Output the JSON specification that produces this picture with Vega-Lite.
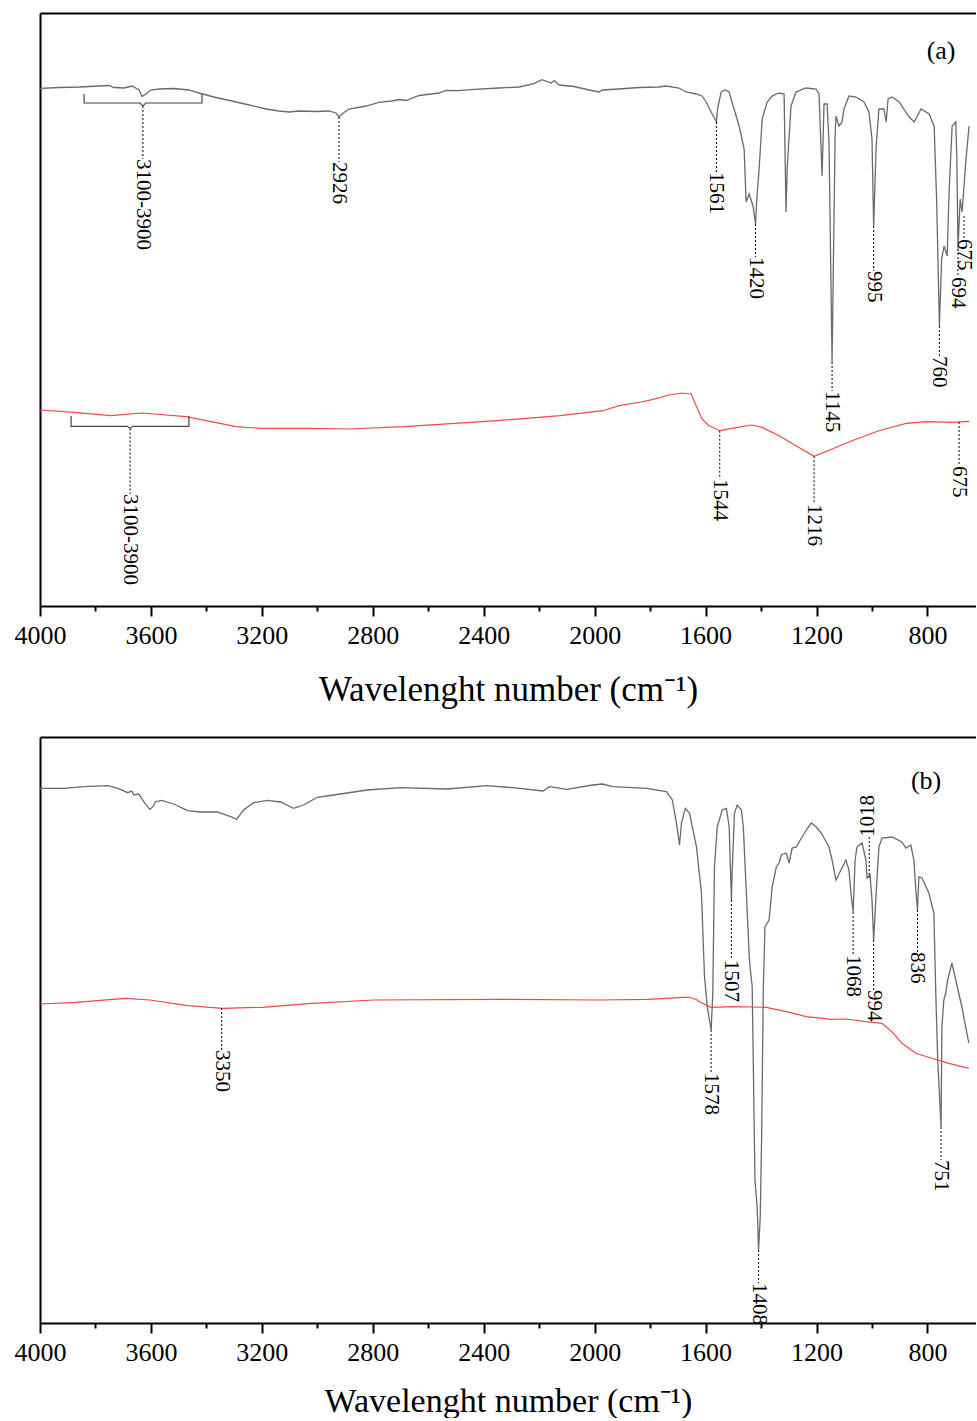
{
  "$schema": "https://vega.github.io/schema/vega-lite/v6.json",
  "padding": {"left": 14, "top": 13, "right": 0, "bottom": 0},
  "background": "white",
  "spacing": 30,
  "config": {
    "view": {"stroke": null},
    "font": "Liberation Serif",
    "axis": {"grid": false, "domainColor": "black", "tickColor": "black", "labelColor": "black", "titleColor": "black", "labelFont": "Liberation Serif", "titleFont": "Liberation Serif"}
  },
  "datasets": {
    "aGray": [
      {"w":4000,"a":75.3},{"w":3931,"a":74.5},{"w":3859,"a":74},{"w":3787,"a":73},{"w":3751,"a":72.5},{"w":3733,"a":74.5},{"w":3697,"a":75},{"w":3668,"a":73},{"w":3643,"a":77},{"w":3632,"a":83.5},{"w":3618,"a":81},{"w":3600,"a":77},{"w":3571,"a":76},{"w":3517,"a":75.5},{"w":3463,"a":77},{"w":3427,"a":80},{"w":3373,"a":84},{"w":3308,"a":88},{"w":3246,"a":92},{"w":3185,"a":96},{"w":3138,"a":98},{"w":3102,"a":99},{"w":3066,"a":98},{"w":3005,"a":98.5},{"w":2958,"a":98},{"w":2933,"a":100},{"w":2922,"a":104},{"w":2911,"a":101},{"w":2886,"a":96},{"w":2824,"a":93},{"w":2778,"a":89.3},{"w":2731,"a":88},{"w":2705,"a":86.5},{"w":2680,"a":87.5},{"w":2633,"a":82.5},{"w":2561,"a":80},{"w":2536,"a":77.5},{"w":2489,"a":77.7},{"w":2435,"a":76.3},{"w":2345,"a":75},{"w":2273,"a":74},{"w":2219,"a":70.7},{"w":2190,"a":66.7},{"w":2157,"a":70},{"w":2146,"a":67.5},{"w":2128,"a":72},{"w":2074,"a":73.5},{"w":2020,"a":77},{"w":1984,"a":79},{"w":1973,"a":77},{"w":1912,"a":76},{"w":1865,"a":75},{"w":1840,"a":74.5},{"w":1768,"a":74},{"w":1743,"a":73},{"w":1696,"a":75},{"w":1670,"a":79},{"w":1634,"a":81},{"w":1613,"a":83},{"w":1598,"a":89},{"w":1580,"a":99},{"w":1561,"a":109},{"w":1557,"a":96},{"w":1544,"a":79},{"w":1530,"a":77},{"w":1515,"a":79},{"w":1505,"a":89},{"w":1479,"a":113},{"w":1461,"a":136},{"w":1454,"a":189},{"w":1443,"a":181},{"w":1429,"a":193},{"w":1420,"a":211},{"w":1416,"a":189},{"w":1407,"a":156},{"w":1396,"a":106},{"w":1378,"a":89},{"w":1360,"a":83},{"w":1335,"a":80},{"w":1317,"a":81},{"w":1310,"a":199},{"w":1306,"a":156},{"w":1292,"a":93},{"w":1274,"a":79},{"w":1238,"a":75},{"w":1202,"a":76},{"w":1191,"a":81},{"w":1180,"a":163},{"w":1173,"a":91},{"w":1162,"a":91},{"w":1155,"a":129},{"w":1144,"a":349},{"w":1133,"a":123},{"w":1130,"a":103},{"w":1119,"a":113},{"w":1108,"a":109},{"w":1101,"a":96},{"w":1083,"a":83},{"w":1057,"a":84},{"w":1029,"a":89},{"w":1011,"a":99},{"w":1000,"a":126},{"w":994,"a":213},{"w":985,"a":133},{"w":975,"a":96},{"w":957,"a":96},{"w":949,"a":109},{"w":942,"a":86},{"w":928,"a":84},{"w":902,"a":89},{"w":866,"a":104},{"w":848,"a":109},{"w":823,"a":96},{"w":794,"a":101},{"w":776,"a":113},{"w":767,"a":186},{"w":757,"a":313},{"w":749,"a":246},{"w":740,"a":233},{"w":729,"a":243},{"w":722,"a":179},{"w":711,"a":113},{"w":698,"a":109},{"w":694,"a":146},{"w":690,"a":236},{"w":682,"a":186},{"w":675,"a":199},{"w":661,"a":146},{"w":650,"a":113}
    ],
    "aRed": [
      {"w":4000,"a":397},{"w":3877,"a":399.3},{"w":3744,"a":402.7},{"w":3632,"a":400},{"w":3474,"a":403.7},{"w":3383,"a":408.7},{"w":3293,"a":413.7},{"w":3203,"a":415.3},{"w":3025,"a":415.3},{"w":2889,"a":416},{"w":2687,"a":413.7},{"w":2352,"a":407.7},{"w":2125,"a":402.7},{"w":1970,"a":397.7},{"w":1912,"a":392.7},{"w":1833,"a":389},{"w":1793,"a":386.7},{"w":1732,"a":382},{"w":1685,"a":380},{"w":1652,"a":381},{"w":1634,"a":392.7},{"w":1613,"a":406},{"w":1588,"a":412.7},{"w":1549,"a":417.7},{"w":1505,"a":415.3},{"w":1433,"a":412},{"w":1396,"a":414.3},{"w":1335,"a":422.7},{"w":1274,"a":432.7},{"w":1209,"a":443.3},{"w":1144,"a":436},{"w":1072,"a":427.7},{"w":975,"a":417.7},{"w":877,"a":410.3},{"w":805,"a":408.7},{"w":711,"a":409.3},{"w":650,"a":408.3}
    ],
    "aRules": [
      {"w":3629,"a":93,"a2":146},{"w":2922,"a":104,"a2":149},{"w":1561,"a":109,"a2":159},{"w":1420,"a":211,"a2":244},{"w":1144,"a":349,"a2":378},{"w":994,"a":213,"a2":258},{"w":757,"a":313,"a2":343},{"w":690,"a":236,"a2":264},{"w":668,"a":203,"a2":226},
      {"w":3675,"a":415.5,"a2":481},{"w":1549,"a":417.7,"a2":466},{"w":1209,"a":443.3,"a2":491},{"w":686,"a":409,"a2":453}
    ],
    "aLabels": [
      {"w":3629,"a":146,"t":"3100-3900"},{"w":2922,"a":149,"t":"2926"},{"w":1561,"a":159,"t":"1561"},{"w":1420,"a":244,"t":"1420"},{"w":1144,"a":378,"t":"1145"},{"w":994,"a":258,"t":"995"},{"w":757,"a":343,"t":"760"},{"w":690,"a":264,"t":"694"},{"w":668,"a":226,"t":"675"},
      {"w":3675,"a":481,"t":"3100-3900"},{"w":1549,"a":466,"t":"1544"},{"w":1209,"a":491,"t":"1216"},{"w":686,"a":453,"t":"675"}
    ],
    "aBrackets": [
      {"b":"g","i":0,"w":3841,"a":81},{"b":"g","i":1,"w":3841,"a":90},{"b":"g","i":2,"w":3640,"a":90},{"b":"g","i":3,"w":3629,"a":93},{"b":"g","i":4,"w":3618,"a":90},{"b":"g","i":5,"w":3416,"a":90},{"b":"g","i":6,"w":3416,"a":81},
      {"b":"r","i":0,"w":3888,"a":402.7},{"b":"r","i":1,"w":3888,"a":413.3},{"b":"r","i":2,"w":3685,"a":413.3},{"b":"r","i":3,"w":3675,"a":415.5},{"b":"r","i":4,"w":3665,"a":413.3},{"b":"r","i":5,"w":3463,"a":413.3},{"b":"r","i":6,"w":3463,"a":402.7}
    ],
    "aPanel": [{"w":751,"a":38,"t":"(a)"}],
    "bGray": [
      {"w":4000,"a":51.3},{"w":3914,"a":51.3},{"w":3842,"a":49.7},{"w":3755,"a":48.7},{"w":3719,"a":51.3},{"w":3683,"a":55.7},{"w":3669,"a":54},{"w":3662,"a":58},{"w":3644,"a":57},{"w":3626,"a":64.7},{"w":3604,"a":72.3},{"w":3593,"a":69.7},{"w":3583,"a":64.7},{"w":3561,"a":63.3},{"w":3518,"a":67},{"w":3468,"a":73.7},{"w":3421,"a":75},{"w":3360,"a":75},{"w":3313,"a":79.7},{"w":3291,"a":82.3},{"w":3266,"a":73},{"w":3230,"a":65.7},{"w":3180,"a":63.3},{"w":3133,"a":65},{"w":3086,"a":71.3},{"w":3050,"a":68},{"w":3000,"a":60.3},{"w":2942,"a":58},{"w":2820,"a":53},{"w":2701,"a":50.7},{"w":2532,"a":52},{"w":2389,"a":48.7},{"w":2295,"a":50.7},{"w":2187,"a":54},{"w":2162,"a":49.7},{"w":2101,"a":52.3},{"w":2007,"a":48},{"w":1971,"a":47},{"w":1935,"a":49.7},{"w":1813,"a":51.3},{"w":1741,"a":54.7},{"w":1720,"a":63},{"w":1705,"a":86.3},{"w":1694,"a":108},{"w":1687,"a":86},{"w":1673,"a":71.3},{"w":1658,"a":76.3},{"w":1633,"a":109.7},{"w":1615,"a":156},{"w":1604,"a":239.7},{"w":1594,"a":269.7},{"w":1580,"a":293},{"w":1574,"a":256},{"w":1568,"a":129.7},{"w":1558,"a":89.7},{"w":1540,"a":73},{"w":1525,"a":71.3},{"w":1515,"a":89.7},{"w":1507,"a":163},{"w":1504,"a":133},{"w":1496,"a":76.3},{"w":1486,"a":68},{"w":1471,"a":73},{"w":1464,"a":89.7},{"w":1442,"a":223},{"w":1432,"a":250},{"w":1422,"a":443},{"w":1414,"a":470},{"w":1409,"a":513},{"w":1403,"a":480},{"w":1398,"a":400},{"w":1392,"a":253},{"w":1386,"a":190},{"w":1371,"a":183},{"w":1360,"a":150},{"w":1345,"a":130},{"w":1335,"a":126},{"w":1327,"a":118},{"w":1309,"a":116},{"w":1299,"a":126},{"w":1288,"a":111},{"w":1273,"a":110},{"w":1263,"a":105},{"w":1237,"a":93},{"w":1219,"a":86},{"w":1201,"a":90},{"w":1183,"a":96},{"w":1165,"a":105},{"w":1155,"a":110},{"w":1144,"a":123},{"w":1130,"a":143},{"w":1112,"a":133},{"w":1094,"a":123},{"w":1083,"a":133},{"w":1076,"a":156},{"w":1068,"a":175},{"w":1061,"a":123},{"w":1054,"a":110},{"w":1036,"a":106},{"w":1022,"a":123},{"w":1018,"a":141},{"w":1007,"a":138},{"w":1000,"a":163},{"w":994,"a":203},{"w":985,"a":156},{"w":975,"a":110},{"w":964,"a":101},{"w":928,"a":100},{"w":892,"a":105},{"w":878,"a":111},{"w":860,"a":108},{"w":849,"a":123},{"w":842,"a":153},{"w":836,"a":173},{"w":831,"a":140},{"w":820,"a":141},{"w":795,"a":156},{"w":777,"a":176},{"w":770,"a":256},{"w":763,"a":323},{"w":751,"a":390},{"w":748,"a":290},{"w":741,"a":263},{"w":734,"a":256},{"w":727,"a":243},{"w":712,"a":226},{"w":698,"a":243},{"w":676,"a":270},{"w":651,"a":306}
    ],
    "bRed": [
      {"w":4000,"a":267},{"w":3871,"a":265.3},{"w":3692,"a":261.3},{"w":3603,"a":263},{"w":3468,"a":268.7},{"w":3340,"a":271.3},{"w":3199,"a":270.3},{"w":3020,"a":266.3},{"w":2796,"a":263},{"w":2347,"a":262.3},{"w":1982,"a":263},{"w":1809,"a":262.3},{"w":1676,"a":260.3},{"w":1658,"a":260.3},{"w":1630,"a":263},{"w":1623,"a":264.7},{"w":1580,"a":270.3},{"w":1504,"a":269.7},{"w":1381,"a":270.3},{"w":1309,"a":274.7},{"w":1237,"a":279.7},{"w":1144,"a":282.3},{"w":1094,"a":282},{"w":1022,"a":284.7},{"w":964,"a":286.3},{"w":928,"a":294.7},{"w":892,"a":306.3},{"w":842,"a":316.3},{"w":784,"a":321.3},{"w":723,"a":326.3},{"w":651,"a":331.3}
    ],
    "bRules": [
      {"w":1580,"a":293,"a2":336},{"w":1507,"a":163,"a2":223},{"w":1409,"a":513,"a2":546},{"w":1068,"a":175,"a2":218},{"w":1010,"a":100,"a2":141},{"w":994,"a":203,"a2":253},{"w":836,"a":173,"a2":215},{"w":751,"a":390,"a2":423},{"w":3345,"a":271,"a2":313}
    ],
    "bLabels": [
      {"w":1580,"a":336,"t":"1578"},{"w":1507,"a":223,"t":"1507"},{"w":1409,"a":546,"t":"1408"},{"w":1068,"a":218,"t":"1068"},{"w":994,"a":253,"t":"994"},{"w":836,"a":215,"t":"836"},{"w":751,"a":423,"t":"751"},{"w":3345,"a":313,"t":"3350"}
    ],
    "bLabelsUp": [{"w":1014,"a":100,"t":"1018"}],
    "bPanel": [{"w":805,"a":44,"t":"(b)"}]
  },
  "vconcat": [
    {
      "width": 936,
      "height": 593,
      "resolve": {"axis": {"x": "independent"}},
      "encoding": {
        "y": {"field": "a", "type": "quantitative", "scale": {"domain": [0, 593], "reverse": true, "nice": false, "zero": false},
              "axis": {"orient": "left", "domain": true, "domainWidth": 2, "ticks": false, "labels": false, "title": null, "grid": false}}
      },
      "layer": [
        {
          "data": {"name": "aGray"},
          "mark": {"type": "line", "color": "#6a6a6a", "strokeWidth": 1.3},
          "encoding": {
            "x": {"field": "w", "type": "quantitative", "scale": {"domain": [4000, 625], "nice": false, "zero": false},
                  "axis": {"orient": "bottom", "values": [4000, 3600, 3200, 2800, 2400, 2000, 1600, 1200, 800], "format": "d", "tickSize": 10, "tickWidth": 2, "domainWidth": 2, "labelFontSize": 26, "labelPadding": 6, "labelFlush": false, "labelOverlap": false, "title": "Wavelenght number (cm⁻¹)", "titleFontSize": 35, "titleFontWeight": "normal", "titlePadding": 24}}
          }
        },
        {
          "data": {"name": "aRed"},
          "mark": {"type": "line", "color": "#f04848", "strokeWidth": 1.2},
          "encoding": {
            "x": {"field": "w", "type": "quantitative", "scale": {"domain": [4000, 625], "nice": false, "zero": false},
                  "axis": {"orient": "bottom", "values": [3800, 3400, 3000, 2600, 2200, 1800, 1400, 1000], "tickSize": 5, "tickWidth": 2, "domain": false, "labels": false, "title": null}}
          }
        },
        {
          "data": {"name": "aRules"},
          "mark": {"type": "rule", "color": "black", "strokeWidth": 1, "strokeDash": [2, 2]},
          "encoding": {
            "x": {"field": "w", "type": "quantitative", "scale": {"domain": [4000, 625], "nice": false, "zero": false},
                  "axis": {"orient": "top", "domain": true, "domainWidth": 2, "ticks": false, "labels": false, "title": null}},
            "y2": {"field": "a2"}
          }
        },
        {
          "data": {"name": "aBrackets"},
          "mark": {"type": "line", "color": "#444444", "strokeWidth": 1.2},
          "encoding": {
            "x": {"field": "w", "type": "quantitative", "scale": {"domain": [4000, 625], "nice": false, "zero": false}, "axis": null},
            "order": {"field": "i", "type": "quantitative"},
            "detail": {"field": "b", "type": "nominal"}
          }
        },
        {
          "data": {"name": "aLabels"},
          "mark": {"type": "text", "angle": 90, "align": "left", "baseline": "middle", "fontSize": 21, "font": "Liberation Serif", "color": "black", "clip": true},
          "encoding": {
            "x": {"field": "w", "type": "quantitative", "scale": {"domain": [4000, 625], "nice": false, "zero": false}, "axis": null},
            "text": {"field": "t"}
          }
        },
        {
          "data": {"name": "aPanel"},
          "mark": {"type": "text", "align": "center", "baseline": "middle", "fontSize": 26, "font": "Liberation Serif", "color": "black"},
          "encoding": {
            "x": {"field": "w", "type": "quantitative", "scale": {"domain": [4000, 625], "nice": false, "zero": false}, "axis": null},
            "text": {"field": "t"}
          }
        }
      ]
    },
    {
      "width": 936,
      "height": 586,
      "resolve": {"axis": {"x": "independent"}},
      "encoding": {
        "y": {"field": "a", "type": "quantitative", "scale": {"domain": [0, 586], "reverse": true, "nice": false, "zero": false},
              "axis": {"orient": "left", "domain": true, "domainWidth": 2, "ticks": false, "labels": false, "title": null, "grid": false}}
      },
      "layer": [
        {
          "data": {"name": "bGray"},
          "mark": {"type": "line", "color": "#6a6a6a", "strokeWidth": 1.3},
          "encoding": {
            "x": {"field": "w", "type": "quantitative", "scale": {"domain": [4000, 625], "nice": false, "zero": false},
                  "axis": {"orient": "bottom", "values": [4000, 3600, 3200, 2800, 2400, 2000, 1600, 1200, 800], "format": "d", "tickSize": 10, "tickWidth": 2, "domainWidth": 2, "labelFontSize": 26, "labelPadding": 6, "labelFlush": false, "labelOverlap": false, "title": "Wavelenght number (cm⁻¹)", "titleFontSize": 34, "titleFontWeight": "normal", "titlePadding": 19}}
          }
        },
        {
          "data": {"name": "bRed"},
          "mark": {"type": "line", "color": "#f04848", "strokeWidth": 1.2},
          "encoding": {
            "x": {"field": "w", "type": "quantitative", "scale": {"domain": [4000, 625], "nice": false, "zero": false},
                  "axis": {"orient": "bottom", "values": [3800, 3400, 3000, 2600, 2200, 1800, 1400, 1000], "tickSize": 5, "tickWidth": 2, "domain": false, "labels": false, "title": null}}
          }
        },
        {
          "data": {"name": "bRules"},
          "mark": {"type": "rule", "color": "black", "strokeWidth": 1, "strokeDash": [2, 2]},
          "encoding": {
            "x": {"field": "w", "type": "quantitative", "scale": {"domain": [4000, 625], "nice": false, "zero": false},
                  "axis": {"orient": "top", "domain": true, "domainWidth": 2, "ticks": false, "labels": false, "title": null}},
            "y2": {"field": "a2"}
          }
        },
        {
          "data": {"name": "bLabels"},
          "mark": {"type": "text", "angle": 90, "align": "left", "baseline": "middle", "fontSize": 21, "font": "Liberation Serif", "color": "black", "clip": true},
          "encoding": {
            "x": {"field": "w", "type": "quantitative", "scale": {"domain": [4000, 625], "nice": false, "zero": false}, "axis": null},
            "text": {"field": "t"}
          }
        },
        {
          "data": {"name": "bLabelsUp"},
          "mark": {"type": "text", "angle": 270, "align": "left", "baseline": "middle", "fontSize": 21, "font": "Liberation Serif", "color": "black"},
          "encoding": {
            "x": {"field": "w", "type": "quantitative", "scale": {"domain": [4000, 625], "nice": false, "zero": false}, "axis": null},
            "text": {"field": "t"}
          }
        },
        {
          "data": {"name": "bPanel"},
          "mark": {"type": "text", "align": "center", "baseline": "middle", "fontSize": 26, "font": "Liberation Serif", "color": "black"},
          "encoding": {
            "x": {"field": "w", "type": "quantitative", "scale": {"domain": [4000, 625], "nice": false, "zero": false}, "axis": null},
            "text": {"field": "t"}
          }
        }
      ]
    }
  ]
}
